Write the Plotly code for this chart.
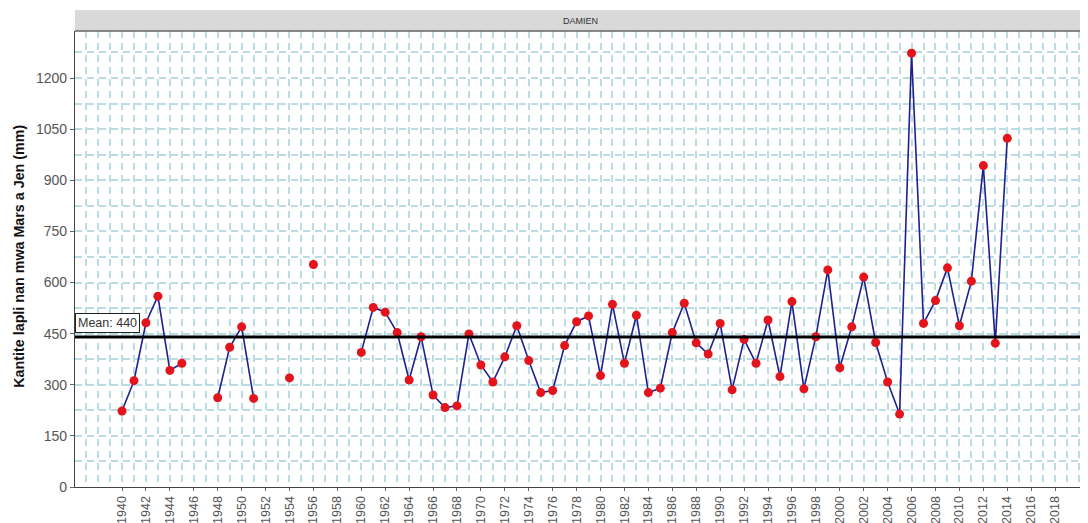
import plotly.graph_objects as go

years = list(range(1940, 2015))
rain = {
    1940: 223, 1941: 312, 1942: 482, 1943: 560, 1944: 342, 1945: 363,
    1948: 262, 1949: 410, 1950: 470, 1951: 260,
    1954: 320, 1956: 653,
    1960: 395, 1961: 527, 1962: 513, 1963: 453, 1964: 314, 1965: 441,
    1966: 270, 1967: 233, 1968: 238, 1969: 449, 1970: 358, 1971: 308,
    1972: 382, 1973: 473, 1974: 371, 1975: 277, 1976: 283, 1977: 415,
    1978: 485, 1979: 502, 1980: 327, 1981: 536, 1982: 363, 1983: 504,
    1984: 277, 1985: 290, 1986: 453, 1987: 539, 1988: 423, 1989: 390,
    1990: 480, 1991: 285, 1992: 433, 1993: 363, 1994: 490, 1995: 324,
    1996: 544, 1997: 288, 1998: 441, 1999: 637, 2000: 350, 2001: 470,
    2002: 616, 2003: 424, 2004: 308, 2005: 214, 2006: 1273, 2007: 480,
    2008: 547, 2009: 643, 2010: 473, 2011: 604, 2012: 943, 2013: 422,
    2014: 1023,
}
values = [rain.get(y) for y in years]
mean_value = 440
station = "DAMIEN"
y_title = "Kantite lapli nan mwa Mars a Jen (mm)"
x_ticks = list(range(1940, 2019, 2))
y_ticks = list(range(0, 1201, 150))

grid_col = "#bcdce3"
FONT = "Liberation Sans, Arial, sans-serif"

fig = go.Figure()
fig.add_trace(go.Scatter(
    x=years, y=values, mode="lines", connectgaps=False,
    line=dict(color="#1f1f8f", width=1.6), showlegend=False, hoverinfo="skip"))
fig.add_trace(go.Scatter(
    x=years, y=values, mode="markers",
    marker=dict(color="#e3141b", size=9), showlegend=False))

fig.add_hline(y=mean_value, line=dict(color="black", width=3))

fig.add_annotation(
    x=0, xref="paper", y=mean_value, yref="y", xanchor="left", yanchor="bottom",
    yshift=4, xshift=0, text=f"Mean: {mean_value}", showarrow=False,
    font=dict(family=FONT, size=12.5, color="#333"), bgcolor="white",
    bordercolor="#222", borderwidth=1, borderpad=2)

# facet strip
strip_h = 21 / 456
fig.add_shape(type="rect", xref="paper", yref="paper", x0=0, x1=1.0,
              y0=1.0, y1=1.0 + strip_h, fillcolor="#d9d9d9", line=dict(width=0),
              layer="below")
fig.add_shape(type="line", xref="paper", yref="paper", x0=0, x1=1, y0=1, y1=1,
              line=dict(color="#666", width=1.5))
fig.add_annotation(x=(580 - 75) / 1013, xref="paper", y=1.0 + strip_h / 2, yref="paper",
                   yanchor="middle", text=station, showarrow=False,
                   font=dict(family=FONT, size=9, color="#333"))

fig.add_annotation(x=0, xref="paper", xshift=-66, y=0.505, yref="paper",
                   text=f"<b>{y_title}</b>", textangle=-90, showarrow=False,
                   font=dict(family=FONT, size=14.3, color="#111"))

fig.update_xaxes(
    range=[1936.07, 2020.75], tickmode="array", tickvals=x_ticks,
    ticktext=[str(t) for t in x_ticks], tickangle=-90, automargin=False,
    tickfont=dict(family=FONT, size=12.5, color="#555"),
    showgrid=True, gridcolor=grid_col, gridwidth=1.5, griddash="7px,5px",
    minor=dict(dtick=1, tick0=1940, showgrid=True, gridcolor=grid_col,
               gridwidth=1.5, griddash="7px,5px"),
    showline=True, linecolor="#444", linewidth=1.2,
    ticks="outside", ticklen=3, tickcolor="#666", zeroline=False)
fig.update_yaxes(
    range=[0, 1338], tickmode="array", tickvals=y_ticks, automargin=False,
    tickfont=dict(family=FONT, size=14, color="#555"),
    showgrid=True, gridcolor=grid_col, gridwidth=1.5, griddash="7px,5px",
    minor=dict(dtick=75, tick0=0, showgrid=True, gridcolor=grid_col,
               gridwidth=1.5, griddash="7px,5px"),
    showline=True, linecolor="#444", linewidth=1.2,
    ticks="outside", ticklen=4, tickcolor="#666", zeroline=False)

# page body has an 8px margin: compensate so the plot area lands where the reference has it
fig.update_layout(
    width=1080, height=515,
    margin=dict(l=67, r=0, t=23, b=36, autoexpand=False),
    plot_bgcolor="white", paper_bgcolor="white",
    font=dict(family=FONT),
)

fig.write_html("out.html")
